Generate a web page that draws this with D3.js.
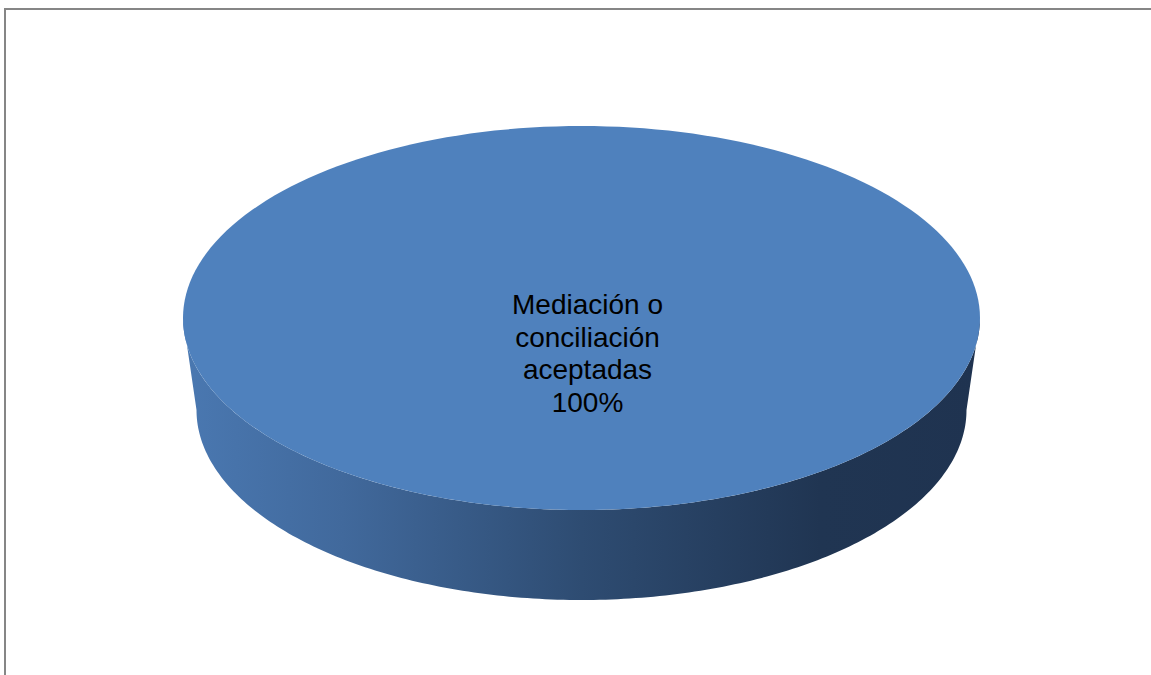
<!DOCTYPE html>
<html><head><meta charset="utf-8">
<script src="https://cdn.jsdelivr.net/npm/d3@7"></script>
<style>html,body{margin:0;padding:0;background:#fff;}svg{display:block;}</style>
</head><body>
<svg id="chart" width="1151" height="675"></svg>
<script>
// Data
const categories = ["Mediación o conciliación aceptadas"];
const values = [100];
const labelLines = [["Mediación o", "conciliación", "aceptadas"]];
const percentLabels = ["100%"];
const colors = ["#4f81bd"];

const svg = d3.select("#chart");
const W = 1151, H = 675;

// frame
svg.append("path").attr("d", "M5,675V9H1151").attr("fill", "none")
  .attr("stroke", "#868686").attr("stroke-width", 2);

// geometry
const cx = 581.5, cy = 318, rx = 398.5, ry = 192;
const cxB = 581.5, cyB = 410, rxB = 385, ryB = 190;

const pie = d3.pie().sort(null).value(d => d)(values);
const ang = a => a - Math.PI / 2;
const topPt = t => [cx + rx * Math.cos(t), cy + ry * Math.sin(t)];
const botPt = t => [cxB + rxB * Math.cos(t), cyB + ryB * Math.sin(t)];

const defs = svg.append("defs");
const grad = defs.append("linearGradient").attr("id", "sideGrad")
  .attr("gradientUnits", "userSpaceOnUse")
  .attr("x1", cx - rx).attr("x2", cx + rx).attr("y1", 0).attr("y2", 0);
[[0, "#4a78b1"], [0.2, "#41699c"], [0.5, "#2e4c72"], [0.8, "#203552"], [1, "#1f3350"]]
  .forEach(([o, c]) => grad.append("stop").attr("offset", o).attr("stop-color", c));

const line = d3.line();
const N = 200;

pie.forEach((p, i) => {
  let a0 = ang(p.startAngle), a1 = ang(p.endAngle);
  const ranges = [];
  for (const off of [-2 * Math.PI, 0, 2 * Math.PI]) {
    const lo = Math.max(a0 + off, 0), hi = Math.min(a1 + off, Math.PI);
    if (hi > lo) ranges.push([lo, hi]);
  }
  ranges.forEach(([lo, hi]) => {
    const pts = [];
    for (let k = 0; k <= N; k++) pts.push(topPt(lo + (hi - lo) * k / N));
    for (let k = N; k >= 0; k--) pts.push(botPt(lo + (hi - lo) * k / N));
    svg.append("path").attr("d", line(pts) + "Z").attr("fill", "url(#sideGrad)");
  });
  const tp = [];
  const full = p.endAngle - p.startAngle >= 2 * Math.PI - 1e-9;
  if (!full) tp.push([cx, cy]);
  for (let k = 0; k <= N; k++) tp.push(topPt(a0 + (a1 - a0) * k / N));
  svg.append("path").attr("d", line(tp) + "Z").attr("fill", colors[i % colors.length]);

  const lines = labelLines[i].concat([percentLabels[i]]);
  const mid = topPt((a0 + a1) / 2);
  const lx = full ? cx + 6 : mid[0] * 0.5 + cx * 0.5;
  const ly = full ? cy : mid[1] * 0.5 + cy * 0.5;
  const lh = 32.5;
  const text = svg.append("text").attr("text-anchor", "middle")
    .attr("font-family", "'Liberation Sans', Arial, sans-serif")
    .attr("font-size", 28).attr("fill", "#000");
  lines.forEach((s, j) => {
    text.append("tspan").attr("x", lx).attr("y", ly - 4 + j * lh).text(s);
  });
});
</script>
</body></html>
